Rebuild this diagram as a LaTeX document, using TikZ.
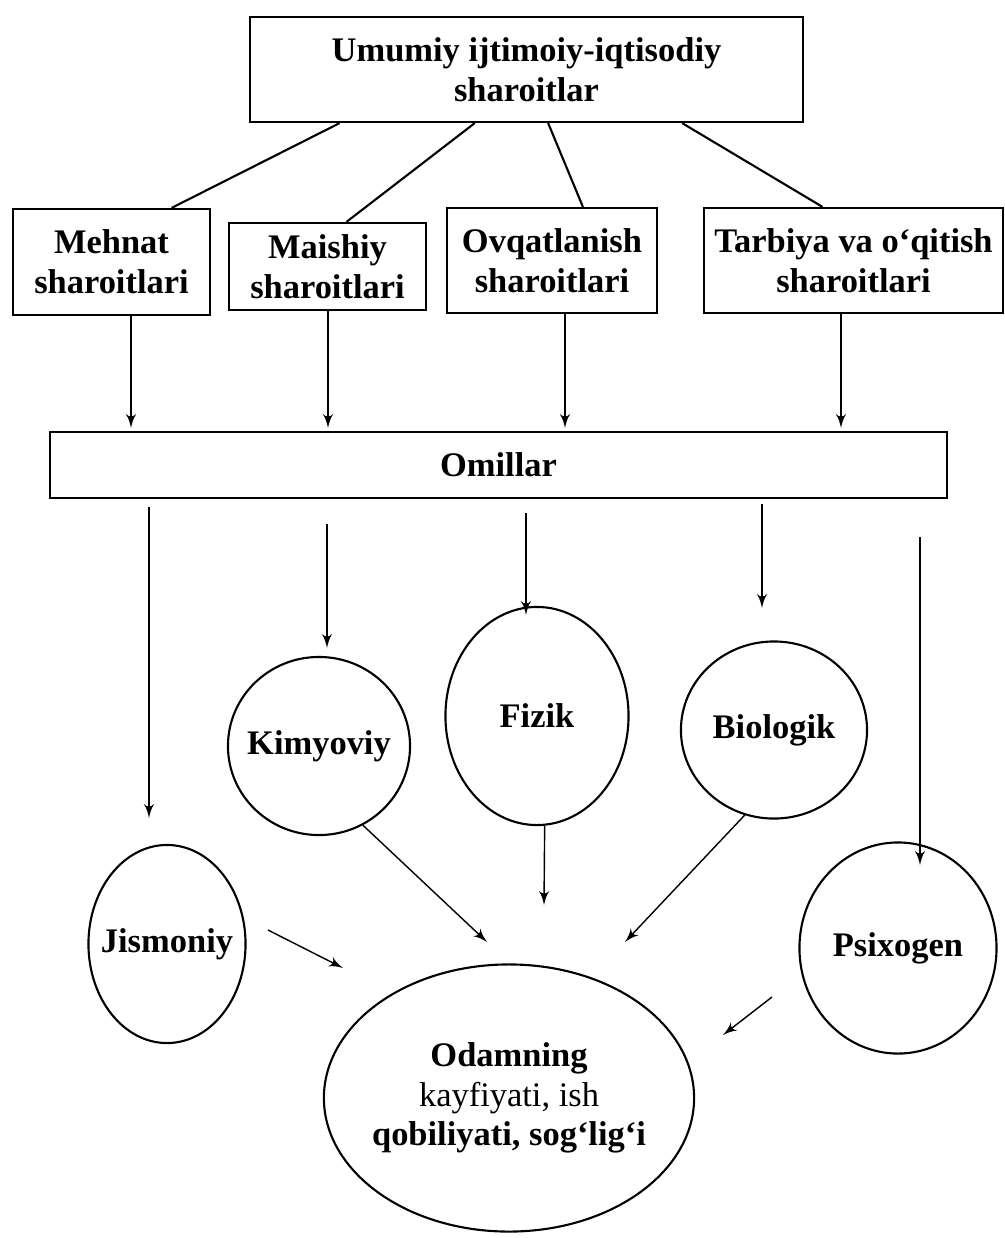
\documentclass[tikz,border=0pt]{standalone}
\usepackage{fontspec}
\setmainfont{Liberation Serif}
\usetikzlibrary{arrows, shapes.geometric}

\begin{document}
\begin{tikzpicture}[x=0.01cm, y=-0.01cm]
\tikzset{box/.style = {shape=rectangle,draw,line width=0.6pt,inner sep=0pt,align=center,font=\fontsize{9.8}{11.3}\selectfont\bfseries}}
\tikzset{oval/.style = {shape=ellipse,draw,line width=0.6pt,inner ysep=0pt,inner xsep=-0.3cm,align=center,font=\fontsize{9.8}{11.3}\selectfont\bfseries}}
\tikzset{edge/.style = {->,> = latex',line width=0.4pt}}
\tikzset{link/.style = {line width=0.6pt}}
\useasboundingbox (0,0) rectangle (1005,1238);
% boxes
\node[box, minimum width=5.53cm, minimum height=1.05cm] (U) at (526.5,69.5) {Umumiy ijtimoiy-iqtisodiy\\sharoitlar};
\node[box, minimum width=1.97cm, minimum height=1.06cm] (M) at (111.5,262) {Mehnat\\sharoitlari};
\node[box, minimum width=1.97cm, minimum height=0.87cm] (B) at (327.5,266.5) {Maishiy\\sharoitlari};
\node[box, minimum width=2.10cm, minimum height=1.05cm] (O) at (552,260.5) {Ovqatlanish\\sharoitlari};
\node[box, minimum width=2.99cm, minimum height=1.05cm] (T) at (853.5,260.5) {Tarbiya va o‘qitish\\sharoitlari};
\node[box, minimum width=8.97cm, minimum height=0.66cm] (F) at (498.5,465) {Omillar};

% ovals
\node[oval, minimum width=1.82cm, minimum height=1.78cm] (K) at (319,746) {Kimyoviy};
\node[oval, minimum width=1.83cm, minimum height=2.18cm] (Fz) at (537,716) {Fizik};
\node[oval, minimum width=1.86cm, minimum height=1.77cm] (Bi) at (774,730) {Biologik};
\node[oval, minimum width=1.57cm, minimum height=1.98cm] (J) at (167,944) {Jismoniy};
\node[oval, minimum width=1.97cm, minimum height=2.11cm] (P) at (898,948) {Psixogen};
\node[oval, minimum width=3.70cm, minimum height=2.67cm] (H) at (509,1098) {Odamning\\{\mdseries kayfiyati, ish}\\qobiliyati, sog‘lig‘i};

% free ends
\coordinate (a1) at (131,428);
\coordinate (a2) at (328,428);
\coordinate (a3) at (565,428);
\coordinate (a4) at (841,428);
\coordinate (j0) at (149,507);
\coordinate (j1) at (149,818);
\coordinate (k0) at (327,524);
\coordinate (k1) at (327,648);
\coordinate (f0) at (526,513);
\coordinate (f1) at (526,615);
\coordinate (b0) at (762,504);
\coordinate (b1) at (762,608);
\coordinate (p0) at (920,537);
\coordinate (p1) at (920,865);
\coordinate (h1) at (487,942);
\coordinate (h2) at (544,905);
\coordinate (h3) at (625,942);
\coordinate (j2) at (268,930);
\coordinate (h4) at (343,968);
\coordinate (p2) at (772,997);
\coordinate (h5) at (723,1035);

\draw [link] (U.196) to (M.42);
\draw [link] (U.226) to (B.67);
\draw [link] (U.292) to (O.60);
\draw [link] (U.341) to (T.120);

\draw [edge] (M.south -| a1) to (a1);
\draw [edge] (B.south -| a2) to (a2);
\draw [edge] (O.south -| a3) to (a3);
\draw [edge] (T.south -| a4) to (a4);

\draw [edge] (j0) to (j1);
\draw [edge] (k0) to (k1);
\draw [edge] (f0) to (f1);
\draw [edge] (b0) to (b1);
\draw [edge] (p0) to (p1);

\draw [edge] (K.-61) to (h1);
\draw [edge] (Fz.-86) to (h2);
\draw [edge] (Bi.-109) to (h3);
\draw [edge] (j2) to (h4);
\draw [edge] (p2) to (h5);

\end{tikzpicture}
\end{document}
